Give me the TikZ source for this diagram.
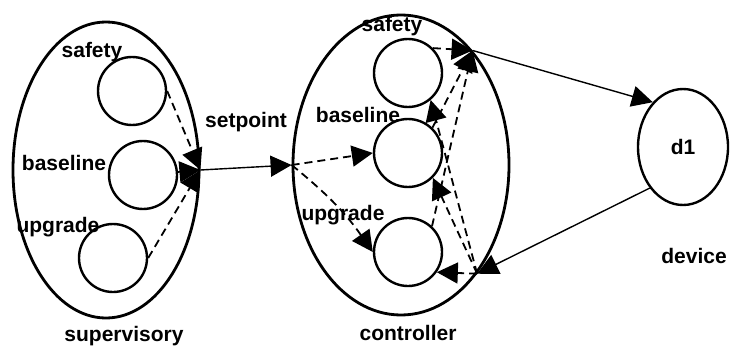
\documentclass[tikz,border=0pt]{standalone}
\usepackage{fontspec}
\setmainfont{Liberation Sans}
\usetikzlibrary{shapes.geometric,arrows.meta}

\begin{document}
\begin{tikzpicture}[x=1pt, y=1pt, >={Triangle[length=21pt,width=21pt]},
  font=\fontsize{21}{25}\selectfont\bfseries,
  layer/.style={ellipse, draw, line width=2.8pt, inner sep=0pt},
  state/.style={circle, draw, line width=2.4pt, minimum size=68pt, inner sep=0pt},
  flow/.style={->, line width=1.8pt, dash pattern=on 8pt off 5pt},
  link/.style={->, line width=1.4pt}]

\useasboundingbox (0,0) rectangle (730,354);

% layers
\node [layer, minimum width=186pt, minimum height=296pt] (sup) at (106,184) {};
\node [layer, minimum width=216pt, minimum height=300pt] (ctl) at (401,189) {};
\node [layer, minimum width=90pt, minimum height=116pt, line width=2.4pt] (dev) at (683,207) {d1};

\foreach \m/\x/\y in {safety/132/263, baseline/143/179, upgrade/113/96}
  \node [state] (sup-\m) at (\x,\y) {};

\foreach \m/\y in {safety/281, baseline/201, upgrade/102}
  \node [state] (ctl-\m) at (408,\y) {};

% labels
\node at (92,302) {safety};
\node at (64,191) {baseline};
\node at (58,127) {upgrade};
\node at (124,18) {supervisory};
\node at (246,232) {setpoint};
\node at (392,328) {safety};
\node at (358,239) {baseline};
\node at (343,139) {upgrade};
\node at (408,21) {controller};
\node at (694,98) {device};

% ports on the controller border
\coordinate (top) at (ctl.58);
\coordinate (bot) at (ctl.-55);

\draw [link] (sup.east) -- (ctl.west);
\draw [link] (top) -- (dev.124);
\draw [link] (dev.231) -- (bot);

\foreach \m in {safety, upgrade}
  \draw [flow] (sup-\m.east) -- (sup.east);
\draw [flow] (sup-baseline) -- (sup.east);

\draw [flow] (ctl.west) -- (ctl-baseline.west);
\draw [flow] (ctl.west) to [bend left=8] (ctl-upgrade.west);

\foreach \m/\a in {safety/45, baseline/46, upgrade/47}
  \draw [flow] (ctl-\m.\a) -- (top);

\foreach \m/\a in {safety/-50, baseline/-45, upgrade/-35}
  \draw [flow] (bot) -- (ctl-\m.\a);

\end{tikzpicture}
\end{document}
